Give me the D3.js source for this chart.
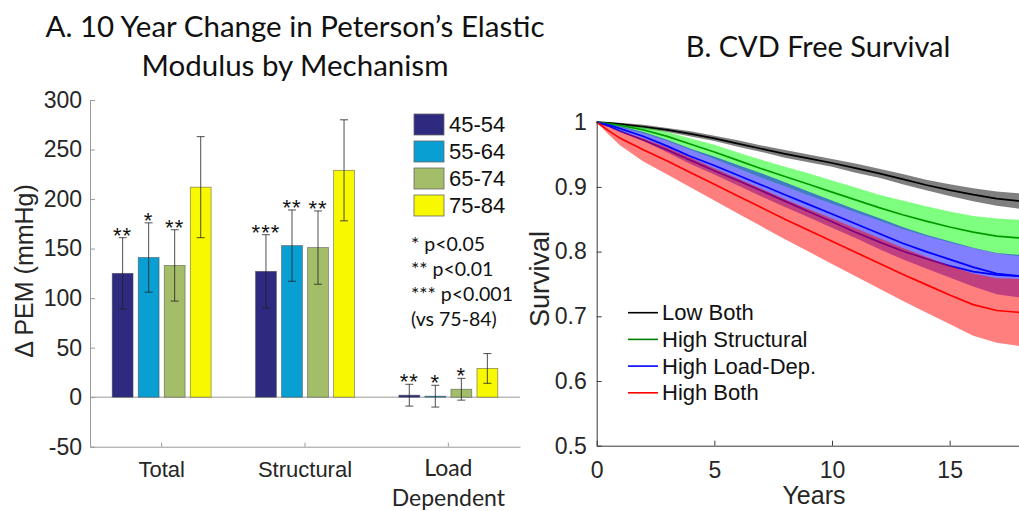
<!DOCTYPE html>
<html>
<head>
<meta charset="utf-8">
<script src="https://cdn.jsdelivr.net/npm/d3@7"></script>
<style>
  body { margin: 0; background: #fff; }
  svg { display: block; }
</style>
</head>
<body>
<div id="viz"></div>
<script>
// ---- Panel A: 10 year change in PEM ----
const mechanisms = ['Total', 'Structural', 'Load Dependent']
const ageGroups = ['45-54', '55-64', '65-74', '75-84']
const ageColors = ['#2e2a80', '#0a9fd2', '#a3bd68', '#f8f800']

const pemTotal = [125, 141, 133, 212]
const pemStructural = [127, 153, 151, 229]
const pemLoad = [2, 1, 8, 29]
const errTotal = [36, 35, 36, 51]
const errStructural = [37, 36, 37, 51]
const errLoad = [11, 11, 11, 15]
const starsTotal = ['**', '*', '**', '']
const starsStructural = ['***', '**', '**', '']
const starsLoad = ['**', '*', '*', '']
const yTicksA = [-50, 0, 50, 100, 150, 200, 250, 300]
const pNotes = ['* p<0.05', '** p<0.01', '*** p<0.001', '(vs 75-84)']

// ---- Panel B: CVD free survival ----
const years = [0, 0.5, 1, 2, 3, 4, 5, 6, 7, 8, 9, 10, 11, 12, 13, 14, 15, 16, 17, 18]
const survLowBoth    = [1, 0.999, 0.997, 0.993, 0.988, 0.982, 0.975, 0.967, 0.959, 0.951, 0.944, 0.937, 0.929, 0.921, 0.912, 0.903, 0.895, 0.888, 0.882, 0.878]
const survHighStruct = [1, 0.998, 0.995, 0.988, 0.978, 0.966, 0.954, 0.941, 0.928, 0.916, 0.904, 0.892, 0.880, 0.868, 0.857, 0.847, 0.838, 0.830, 0.824, 0.821]
const survHighLoad   = [1, 0.996, 0.990, 0.978, 0.963, 0.947, 0.933, 0.918, 0.903, 0.888, 0.873, 0.858, 0.843, 0.828, 0.813, 0.800, 0.788, 0.776, 0.766, 0.762]
const survHighLoadB  = [1, 0.994, 0.986, 0.972, 0.957, 0.941, 0.925, 0.910, 0.894, 0.878, 0.862, 0.846, 0.830, 0.815, 0.801, 0.789, 0.778, 0.769, 0.764, 0.762]
const survHighBoth   = [1, 0.987, 0.975, 0.957, 0.940, 0.922, 0.904, 0.886, 0.868, 0.850, 0.833, 0.816, 0.799, 0.782, 0.765, 0.749, 0.733, 0.718, 0.709, 0.706]
// half width of the confidence bands
const ciLowBoth    = [0, 0.001, 0.002, 0.003, 0.003, 0.004, 0.004, 0.005, 0.005, 0.006, 0.006, 0.006, 0.007, 0.007, 0.008, 0.008, 0.009, 0.010, 0.011, 0.012]
const ciHighStruct = [0, 0.002, 0.003, 0.005, 0.007, 0.009, 0.011, 0.012, 0.014, 0.015, 0.017, 0.018, 0.019, 0.020, 0.022, 0.023, 0.024, 0.025, 0.027, 0.028]
const ciHighLoad   = [0, 0.002, 0.004, 0.007, 0.010, 0.012, 0.014, 0.016, 0.018, 0.019, 0.020, 0.021, 0.022, 0.024, 0.025, 0.026, 0.028, 0.030, 0.032, 0.033]
const ciHighBoth   = [0, 0.006, 0.011, 0.018, 0.021, 0.023, 0.025, 0.027, 0.029, 0.031, 0.033, 0.035, 0.037, 0.039, 0.041, 0.043, 0.045, 0.048, 0.050, 0.052]
const groupNames = ['Low Both', 'High Structural', 'High Load-Dep.', 'High Both']
const yTicksB = [0.5, 0.6, 0.7, 0.8, 0.9, 1]
const xTicksB = [0, 5, 10, 15]

const sansFont = '"Liberation Sans", Arial, sans-serif'
const titleFont = 'Lato, "Open Sans", sans-serif'

const svg = d3.select('#viz')
  .append('svg')
  .attr('width', 1019)
  .attr('height', 511)

// ================= Panel A =================
let dimA = { left: 90, right: 520, top: 100, bottom: 446.7 }

svg.append('text')
  .attr('x', 295).attr('y', 37)
  .attr('text-anchor', 'middle')
  .style('font-family', titleFont).style('font-size', '29.5px').style('fill', '#111')
  .text('A. 10 Year Change in Peterson\u2019s Elastic')
svg.append('text')
  .attr('x', 295).attr('y', 76)
  .attr('text-anchor', 'middle')
  .style('font-family', titleFont).style('font-size', '29.5px').style('fill', '#111')
  .text('Modulus by Mechanism')

const xA = d3.scaleBand()
  .domain(mechanisms)
  .range([dimA.left, dimA.right])
  .paddingInner(0.31)
  .paddingOuter(0.155)

const xAge = d3.scaleBand()
  .domain(ageGroups)
  .range([0, xA.bandwidth()])
  .paddingInner(0.2)

const yA = d3.scaleLinear()
  .domain([-50, 300])
  .range([dimA.bottom, dimA.top])

const colorA = d3.scaleOrdinal().domain(ageGroups).range(ageColors)

const yAxisA = svg.append('g')
  .attr('transform', `translate(${dimA.left},0)`)
  .call(d3.axisLeft(yA).tickValues(yTicksA).tickFormat(d => String(d))
    .tickSizeInner(-5).tickSizeOuter(0).tickPadding(8))
yAxisA.selectAll('path, line').attr('stroke', '#9a9a9a')
yAxisA.selectAll('text')
  .style('font-family', sansFont).style('font-size', '23px').style('fill', '#262626')

const xAxisA = svg.append('g')
  .attr('transform', `translate(0,${dimA.bottom})`)
  .call(d3.axisBottom(xA).tickSizeInner(-4).tickSizeOuter(0).tickFormat(''))
xAxisA.selectAll('path, line').attr('stroke', '#9a9a9a')

// zero line
svg.append('line')
  .attr('x1', dimA.left).attr('x2', dimA.right)
  .attr('y1', yA(0)).attr('y2', yA(0))
  .attr('stroke', '#9a9a9a')

// category labels
svg.append('text')
  .attr('x', xA('Total') + xA.bandwidth() / 2).attr('y', 477)
  .attr('text-anchor', 'middle')
  .style('font-family', sansFont).style('font-size', '22px').style('fill', '#262626')
  .text('Total')
svg.append('text')
  .attr('x', xA('Structural') + xA.bandwidth() / 2).attr('y', 477)
  .attr('text-anchor', 'middle')
  .style('font-family', sansFont).style('font-size', '22px').style('fill', '#262626')
  .text('Structural')
const loadLabel = svg.append('text')
  .attr('text-anchor', 'middle')
  .style('font-family', titleFont).style('font-size', '23px').style('fill', '#262626')
loadLabel.append('tspan')
  .attr('x', xA('Load Dependent') + xA.bandwidth() / 2).attr('y', 476)
  .text('Load')
loadLabel.append('tspan')
  .attr('x', xA('Load Dependent') + xA.bandwidth() / 2).attr('y', 506)
  .text('Dependent')

// y label
svg.append('text')
  .attr('transform', 'translate(33,271) rotate(-90)')
  .attr('text-anchor', 'middle')
  .style('font-family', sansFont).style('font-size', '25px').style('fill', '#262626')
  .text('\u0394 PEM (mmHg)')

const means = [pemTotal, pemStructural, pemLoad]
const errs = [errTotal, errStructural, errLoad]
const stars = [starsTotal, starsStructural, starsLoad]
const barData = mechanisms.flatMap((m, i) => ageGroups.map((a, j) => ({
  m: m, a: a, v: means[i][j], e: errs[i][j], s: stars[i][j]
})))

const barX = d => xA(d.m) + xAge(d.a)
const barMid = d => barX(d) + xAge.bandwidth() / 2

svg.append('g').selectAll('rect')
  .data(barData)
  .join('rect')
  .attr('x', barX)
  .attr('y', d => yA(Math.max(d.v, 0)))
  .attr('width', xAge.bandwidth())
  .attr('height', d => Math.abs(yA(d.v) - yA(0)))
  .attr('fill', d => colorA(d.a))
  .attr('stroke', '#444')
  .attr('stroke-opacity', 0.6)
  .attr('stroke-width', 0.8)

// error bars
const errG = svg.append('g').attr('stroke', '#222').attr('stroke-width', 0.8)
errG.selectAll('.stem')
  .data(barData)
  .join('line')
  .attr('class', 'stem')
  .attr('x1', barMid).attr('x2', barMid)
  .attr('y1', d => yA(d.v - d.e)).attr('y2', d => yA(d.v + d.e))
errG.selectAll('.capTop')
  .data(barData)
  .join('line')
  .attr('class', 'capTop')
  .attr('x1', d => barMid(d) - 4).attr('x2', d => barMid(d) + 4)
  .attr('y1', d => yA(d.v + d.e)).attr('y2', d => yA(d.v + d.e))
errG.selectAll('.capBot')
  .data(barData)
  .join('line')
  .attr('class', 'capBot')
  .attr('x1', d => barMid(d) - 4).attr('x2', d => barMid(d) + 4)
  .attr('y1', d => yA(d.v - d.e)).attr('y2', d => yA(d.v - d.e))

// significance stars
svg.append('g').selectAll('text')
  .data(barData.filter(d => d.s))
  .join('text')
  .attr('x', barMid)
  .attr('y', d => yA(d.v + d.e) + 5)
  .attr('text-anchor', 'middle')
  .style('font-family', sansFont).style('font-size', '22px').style('fill', '#111')
  .style('letter-spacing', '1px')
  .text(d => d.s)

// legend
const legA = svg.append('g')
legA.selectAll('rect')
  .data(ageGroups)
  .join('rect')
  .attr('x', 414).attr('y', (d, i) => 114 + i * 27)
  .attr('width', 30).attr('height', 21)
  .attr('fill', d => colorA(d))
  .attr('stroke', '#666').attr('stroke-width', 0.8)
legA.selectAll('text')
  .data(ageGroups)
  .join('text')
  .attr('x', 449).attr('y', (d, i) => 124.5 + i * 27)
  .attr('dominant-baseline', 'central')
  .style('font-family', sansFont).style('font-size', '22px').style('fill', '#111')
  .text(d => d)

svg.append('g').selectAll('text')
  .data(pNotes)
  .join('text')
  .attr('x', 411).attr('y', (d, i) => 251 + i * 25)
  .style('font-family', titleFont).style('font-size', '19.5px').style('fill', '#111')
  .text(d => d)

// ================= Panel B =================
let dimB = { left: 596.7, bottom: 445.7, top: 122.2 }

svg.append('text')
  .attr('x', 818).attr('y', 57)
  .attr('text-anchor', 'middle')
  .style('font-family', titleFont).style('font-size', '29px').style('fill', '#111')
  .text('B. CVD Free Survival')

const xB = d3.scaleLinear()
  .domain([0, 20])
  .range([dimB.left, dimB.left + 20 * 23.53])

const yB = d3.scaleLinear()
  .domain([0.5, 1])
  .range([dimB.bottom, dimB.top])

const survSeries = [
  { s: survLowBoth, ci: ciLowBoth, line: '#000000', band: '#000000' },
  { s: survHighStruct, ci: ciHighStruct, line: '#009a00', band: '#00ff00' },
  { s: survHighLoad, ci: ciHighLoad, line: '#0000ff', band: '#0000ff' },
  { s: survHighBoth, ci: ciHighBoth, line: '#ff0000', band: '#ff0000' }
]

const areaGen = ci => d3.area()
  .x((d, i) => xB(years[i]))
  .y0((d, i) => yB(d - ci[i]))
  .y1((d, i) => yB(d + ci[i]))

const lineGen = d3.line()
  .x((d, i) => xB(years[i]))
  .y(d => yB(d))

const plotB = svg.append('g')

const drawBand = k => plotB.append('path')
  .attr('d', areaGen(survSeries[k].ci)(survSeries[k].s))
  .attr('fill', survSeries[k].band)
  .attr('fill-opacity', 0.5)
const drawLine = (arr, color) => plotB.append('path')
  .attr('d', lineGen(arr))
  .attr('fill', 'none')
  .attr('stroke', color)
  .attr('stroke-width', 1.7)

drawBand(0)
drawBand(1)
drawBand(2)
drawLine(survLowBoth, survSeries[0].line)
drawLine(survHighStruct, survSeries[1].line)
drawLine(survHighLoadB, '#0000ff')
drawBand(3)
drawLine(survHighLoad, survSeries[2].line)
drawLine(survHighBoth, survSeries[3].line)

const yAxisB = svg.append('g')
  .attr('transform', `translate(${dimB.left},0)`)
  .call(d3.axisLeft(yB).tickValues(yTicksB).tickFormat(d3.format('~g'))
    .tickSizeInner(-5).tickSizeOuter(0).tickPadding(10))
yAxisB.selectAll('path, line').attr('stroke', '#3a3a3a')
yAxisB.selectAll('text')
  .style('font-family', sansFont).style('font-size', '23px').style('fill', '#262626')

const xAxisB = svg.append('g')
  .attr('transform', `translate(0,${dimB.bottom})`)
  .call(d3.axisBottom(xB).tickValues(xTicksB).tickFormat(d3.format('d'))
    .tickSizeInner(-5).tickSizeOuter(0).tickPadding(16))
xAxisB.selectAll('path, line').attr('stroke', '#3a3a3a')
xAxisB.selectAll('text')
  .style('font-family', sansFont).style('font-size', '23px').style('fill', '#262626')

svg.append('text')
  .attr('transform', 'translate(549,279) rotate(-90)')
  .attr('text-anchor', 'middle')
  .style('font-family', sansFont).style('font-size', '27px').style('fill', '#262626')
  .text('Survival')

svg.append('text')
  .attr('x', 814).attr('y', 504)
  .attr('text-anchor', 'middle')
  .style('font-family', sansFont).style('font-size', '25px').style('fill', '#262626')
  .text('Years')

// legend B
const legB = svg.append('g')
legB.selectAll('line')
  .data(groupNames)
  .join('line')
  .attr('x1', 628).attr('x2', 658)
  .attr('y1', (d, i) => 312.7 + i * 26.7).attr('y2', (d, i) => 312.7 + i * 26.7)
  .attr('stroke', (d, i) => i === 1 ? '#008000' : survSeries[i].line)
  .attr('stroke-width', 1.6)
legB.selectAll('text')
  .data(groupNames)
  .join('text')
  .attr('x', 662).attr('y', (d, i) => 312.7 + i * 26.7)
  .attr('dominant-baseline', 'central')
  .style('font-family', sansFont).style('font-size', '22px').style('fill', '#111')
  .text(d => d)
</script>
</body>
</html>
